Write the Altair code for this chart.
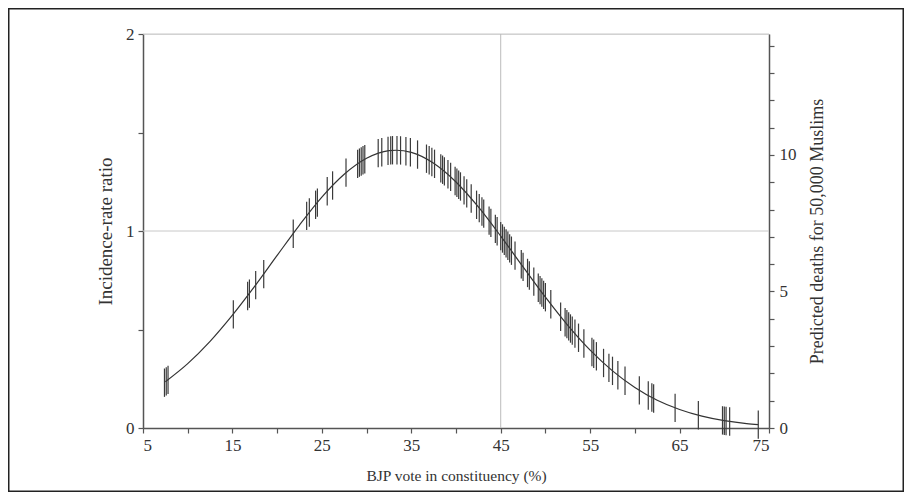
import altair as alt
import pandas as pd

# ---- data ----
curve_x = [7.5, 10, 12.5, 15, 17.5, 20, 22.5, 25, 27.5, 30, 32.5, 33.3, 35, 37.5,
           40, 42.5, 45, 47.5, 50, 52.5, 55, 57.5, 60, 62.5, 65, 67.5, 70, 72.5, 73.8]
curve_irr = [0.235, 0.327, 0.440, 0.573, 0.720, 0.876, 1.030, 1.172, 1.288, 1.369,
             1.408, 1.410, 1.399, 1.344, 1.249, 1.122, 0.974, 0.818, 0.664, 0.521,
             0.395, 0.290, 0.206, 0.141, 0.094, 0.060, 0.037, 0.022, 0.017]

obs_x = [7.4, 7.6, 7.8, 15.1, 16.7, 16.9, 17.6, 18.5, 21.8, 23.3, 23.6, 24.3, 24.5,
         25.6, 26.2, 27.7, 29.0, 29.2, 29.4, 29.6, 29.8, 31.3, 31.7, 32.4, 32.7, 32.9,
         33.4, 33.8, 34.4, 34.9, 35.7, 36.7, 37.0, 37.3, 37.6, 38.3, 38.5, 38.7, 39.1,
         39.4, 39.9, 40.1, 40.3, 40.5, 40.9, 41.2, 41.7, 42.3, 42.6, 42.9, 43.1, 43.7,
         43.9, 44.4, 44.6, 45.0, 45.2, 45.4, 45.6, 45.8, 46.0, 46.2, 46.6, 47.3, 47.5,
         48.0, 48.2, 48.7, 49.2, 49.4, 49.6, 49.8, 50.0, 50.6, 51.7, 52.2, 52.4, 52.6,
         52.8, 53.0, 53.3, 53.7, 54.3, 55.2, 55.4, 55.7, 56.5, 57.1, 57.5, 58.1, 58.9,
         60.5, 61.5, 61.9, 62.1, 64.5, 67.1, 69.8, 70.0, 70.2, 70.6, 73.8]
obs_irr = [0.230, 0.237, 0.244, 0.577, 0.670, 0.682, 0.725, 0.781, 0.986, 1.077, 1.094,
           1.133, 1.144, 1.202, 1.231, 1.296, 1.341, 1.347, 1.353, 1.359, 1.364, 1.395,
           1.400, 1.407, 1.409, 1.410, 1.410, 1.409, 1.405, 1.400, 1.388, 1.367, 1.359,
           1.350, 1.341, 1.318, 1.311, 1.303, 1.288, 1.275, 1.254, 1.245, 1.235, 1.226,
           1.206, 1.191, 1.165, 1.133, 1.116, 1.099, 1.088, 1.053, 1.041, 1.011, 0.999,
           0.974, 0.962, 0.950, 0.937, 0.925, 0.912, 0.900, 0.875, 0.831, 0.818, 0.787,
           0.774, 0.743, 0.712, 0.700, 0.688, 0.676, 0.664, 0.628, 0.565, 0.537, 0.527,
           0.516, 0.505, 0.494, 0.479, 0.458, 0.429, 0.386, 0.377, 0.364, 0.330, 0.305,
           0.290, 0.268, 0.240, 0.191, 0.165, 0.155, 0.150, 0.102, 0.0645, 0.0386,
           0.037, 0.0357, 0.033, 0.017]

hlines = [1, 2]
vlines = [45]
x_ticks = [5, 10, 15, 20, 25, 30, 35, 40, 45, 50, 55, 60, 65, 70, 75]
left_ticks = [0, 0.5, 1, 1.5, 2]
right_ticks = [0, 1, 2, 3, 4, 5, 6, 7, 8, 9, 10, 11, 12, 13, 14]
right_labels = [0, 5, 10]
right_max = 14.43

SPIKE = 0.072
FONT = "Liberation Serif"
AX = "#555555"
TXT = "#333333"

curve_df = pd.DataFrame({"x": curve_x, "irr": curve_irr})
obs_df = pd.DataFrame({"x": obs_x, "irr": obs_irr})
h_df = pd.DataFrame({"h": hlines})
v_df = pd.DataFrame({"v": vlines})
r_df = pd.DataFrame({"d": right_labels})

x_scale = alt.Scale(domain=[5, 75], nice=False, zero=False)
y_scale = alt.Scale(domain=[0, 2], nice=False)

common_axis = dict(labelFont=FONT, titleFont=FONT, labelFontSize=17,
                   labelColor=TXT, titleColor=TXT, titleFontWeight="normal",
                   domainColor=AX, domainWidth=1.5, tickColor=AX, tickWidth=1.2,
                   tickSize=5, grid=False)

x_axis = alt.Axis(values=x_ticks, title="BJP vote in constituency (%)",
                  labelExpr="(datum.value - 5) % 10 == 0 ? format(datum.value, 'd') : ''",
                  labelPadding=4, titlePadding=15, titleFontSize=15.5, **common_axis)
y_axis = alt.Axis(values=left_ticks, title="Incidence-rate ratio",
                  labelExpr="datum.value % 1 == 0 ? format(datum.value, 'd') : ''",
                  labelPadding=4, titlePadding=10, titleFontSize=19, **common_axis)

grid_h = alt.Chart(h_df).mark_rule(color="#c8c8c8", strokeWidth=1).encode(
    y=alt.Y("h:Q", scale=y_scale, axis=y_axis, title="Incidence-rate ratio"))
grid_v = alt.Chart(v_df).mark_rule(color="#bbbbbb", strokeWidth=1).encode(
    x=alt.X("v:Q", scale=x_scale, axis=x_axis, title="BJP vote in constituency (%)"))

curve = alt.Chart(curve_df).mark_line(color="#333333", strokeWidth=1.2,
                                      interpolate="monotone").encode(
    x=alt.X("x:Q", scale=x_scale, axis=x_axis, title="BJP vote in constituency (%)"),
    y=alt.Y("irr:Q", scale=y_scale, axis=y_axis, title="Incidence-rate ratio"))

spikes = alt.Chart(obs_df).transform_calculate(
    lo=f"datum.irr - {SPIKE}", hi=f"datum.irr + {SPIKE}"
).mark_rule(color="#3a3a3a", strokeWidth=1.2).encode(
    x=alt.X("x:Q", scale=x_scale, axis=x_axis, title="BJP vote in constituency (%)"),
    y=alt.Y("lo:Q", scale=y_scale, axis=y_axis, title="Incidence-rate ratio"),
    y2="hi:Q")

border = alt.Chart(alt.Data(values=[{"b": 1}])).mark_rect(
    fill=None, stroke="#222222", strokeWidth=1.5).encode(
    x=alt.value(-134.25), x2=alt.value(760.25),
    y=alt.value(-25.25), y2=alt.value(457.25))

left = alt.layer(grid_h, grid_v, curve, spikes, border)

right = alt.Chart(r_df).mark_point(opacity=0).encode(
    y=alt.Y("d:Q", scale=alt.Scale(domain=[0, right_max], nice=False),
            axis=alt.Axis(orient="right", values=right_ticks,
                          title="Predicted deaths for 50,000 Muslims",
                          labelExpr="datum.value % 5 == 0 ? format(datum.value, 'd') : ''",
                          labelPadding=5, titlePadding=30, titleAngle=270,
                          titleFontSize=18, **common_axis)))

chart = alt.layer(left, right).resolve_scale(y="independent").properties(
    width=626, height=394,
    autosize=alt.AutoSizeParams(type="none"),
    padding={"left": 135, "top": 26, "right": 135, "bottom": 64},
).configure_view(stroke=None).configure(background="white")

chart.save("out.html", embed_options={"renderer": "svg", "actions": False})
